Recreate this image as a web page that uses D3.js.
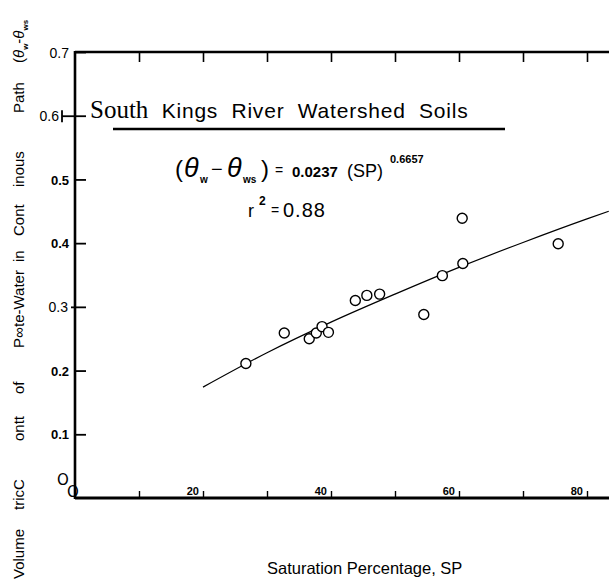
<!DOCTYPE html>
<html>
<head>
<meta charset="utf-8">
<script src="https://cdn.jsdelivr.net/npm/d3@7"></script>
<style>
  body { margin: 0; background: #fff; }
  svg { display: block; }
  text { fill: #000; }
</style>
</head>
<body>
<div id="chart"></div>
<script>
// observed points (saturation percentage vs theta_w - theta_ws)
var sp = [26.7, 32.7, 36.6, 37.7, 38.6, 39.6, 43.8, 45.6, 47.6, 54.5, 57.4, 60.5, 60.6, 75.5];
var theta = [0.211, 0.259, 0.250, 0.259, 0.269, 0.260, 0.310, 0.318, 0.320, 0.288, 0.349, 0.439, 0.368, 0.399];

// fitted curve
var curveSP = [20, 30, 40, 50, 60, 70, 80, 83.4];
var curveTheta = [0.174, 0.228, 0.276, 0.320, 0.362, 0.401, 0.438, 0.450];

var yTicks = [0.1, 0.2, 0.3, 0.4, 0.5, 0.6, 0.7];
var xTicks = [10, 20, 30, 40, 50, 60, 70, 80];
var xTickLabels = ["20", "40", "60", "80"];

var width = 609;
var height = 579;
var margin = ({ top: 52, right: 0, bottom: 81, left: 75 });

var svg = d3.select("#chart").append("svg")
  .attr("width", width)
  .attr("height", height);

/* Scale */
var xScale = d3.scaleLinear()
  .domain([0, 80])
  .range([margin.left, 587]);

var yScale = d3.scaleLinear()
  .domain([0, 0.7])
  .range([height - margin.bottom, margin.top]);

/* frame: top and left lines, bottom axis */
var topAxis = d3.axisTop(xScale)
  .tickValues(xTicks)
  .tickSizeInner(-10)
  .tickSizeOuter(0)
  .tickFormat("");
var gTop = svg.append("g")
  .attr("transform", `translate(0,${margin.top})`)
  .call(topAxis);
gTop.select(".domain").remove();
gTop.selectAll("line").attr("stroke-width", 1.6);

var bottomAxis = d3.axisBottom(xScale)
  .tickValues(xTicks)
  .tickSizeInner(-7)
  .tickSizeOuter(0)
  .tickFormat("");
var gBottom = svg.append("g")
  .attr("transform", `translate(0,${yScale(0)})`)
  .call(bottomAxis);
gBottom.select(".domain").remove();
gBottom.selectAll("line").attr("stroke-width", 1.4);

svg.append("line")
  .attr("x1", xScale(0)).attr("x2", width)
  .attr("y1", yScale(0.7)).attr("y2", yScale(0.7))
  .attr("stroke", "#000").attr("stroke-width", 2.6);
svg.append("line")
  .attr("x1", xScale(0)).attr("x2", width)
  .attr("y1", yScale(0)).attr("y2", yScale(0))
  .attr("stroke", "#000").attr("stroke-width", 2.8);
svg.append("line")
  .attr("x1", xScale(0)).attr("x2", xScale(0))
  .attr("y1", yScale(0.7) - 1).attr("y2", yScale(0) + 1)
  .attr("stroke", "#000").attr("stroke-width", 2.6);

// x tick labels sit just above the axis, left of their tick
svg.append("g").selectAll("text")
  .data(xTickLabels)
  .join("text")
  .attr("x", d => xScale(+d) - 4)
  .attr("y", yScale(0) - 3)
  .attr("text-anchor", "end")
  .style("font", "bold 11px 'Liberation Sans', Arial, sans-serif")
  .text(d => d);

/* y axis */
var yAxis = d3.axisLeft(yScale)
  .tickValues(yTicks)
  .tickSizeInner(-11)
  .tickSizeOuter(0)
  .tickPadding(6)
  .tickFormat(d3.format(".1f"));
var gLeft = svg.append("g")
  .attr("transform", `translate(${margin.left},0)`)
  .call(yAxis);
gLeft.select(".domain").remove();
gLeft.selectAll("line").attr("stroke-width", 1.8);
gLeft.selectAll("text")
  .style("font", "bold 13px 'Liberation Sans', Arial, sans-serif")
  .attr("dy", "0.36em");

// the 0.6 and 0.3 ticks also stick out to the left in the scan
gLeft.selectAll(".tick")
  .filter(d => d === 0.6 || d === 0.3)
  .each(function (d) {
    var g = d3.select(this);
    var out = d === 0.6 ? 13 : 4;
    g.append("line")
      .attr("x1", -out).attr("x2", 0)
      .attr("stroke", "#000").attr("stroke-width", 1.8);
    if (d === 0.6) {
      g.append("line")
        .attr("x1", -out).attr("x2", -out)
        .attr("y1", -6).attr("y2", 6)
        .attr("stroke", "#000").attr("stroke-width", 1.8);
    }
    g.select("text").attr("x", -out - 3)
      .style("font-weight", "normal").style("font-size", "14px");
  });
gLeft.selectAll(".tick")
  .filter(d => d === 0.7)
  .select("text").style("font-weight", "normal").style("font-size", "14px");

// stray zero marks near the origin
svg.append("text")
  .attr("x", 57).attr("y", yScale(0) - 13)
  .style("font", "15px 'DejaVu Sans', sans-serif")
  .text("O");
svg.append("text")
  .attr("x", 67).attr("y", yScale(0) - 1)
  .style("font", "15px 'DejaVu Sans', sans-serif")
  .text("O");

/* fitted line */
var line = d3.line()
  .x(d => xScale(d[0]))
  .y(d => yScale(d[1]))
  .curve(d3.curveMonotoneX);

svg.append("path")
  .datum(d3.zip(curveSP, curveTheta))
  .attr("d", line)
  .attr("fill", "none")
  .attr("stroke", "#000")
  .attr("stroke-width", 1.2);

/* points */
svg.append("g").selectAll("circle")
  .data(d3.zip(sp, theta))
  .join("circle")
  .attr("cx", d => xScale(d[0]))
  .attr("cy", d => yScale(d[1]))
  .attr("r", 5)
  .attr("fill", "#fff")
  .attr("stroke", "#000")
  .attr("stroke-width", 1.4);

/* title */
var title = svg.append("text")
  .attr("x", 90)
  .attr("y", 118)
  .attr("xml:space", "preserve");
title.append("tspan")
  .style("font", "25px 'Liberation Serif', 'Times New Roman', serif")
  .text("South");
title.append("tspan")
  .style("font", "21px 'Liberation Sans', Arial, sans-serif")
  .style("letter-spacing", "0.8px")
  .text("  Kings  River  Watershed  Soils");
svg.append("line")
  .attr("x1", 113).attr("x2", 505)
  .attr("y1", 129).attr("y2", 129)
  .attr("stroke", "#000").attr("stroke-width", 2.4);

/* equation */
var eq = svg.append("text")
  .style("font-family", "'Liberation Sans', Arial, sans-serif");
var eqBase = 177;
var eqParts = [
  { t: "(", x: 175, dy: 0, size: 24 },
  { t: "θ", x: 184, dy: 0, size: 27, it: true },
  { t: "w", x: 200, dy: 6, size: 10, b: true },
  { t: "−", x: 211, dy: -1, size: 20 },
  { t: "θ", x: 227, dy: 0, size: 27, it: true },
  { t: "ws", x: 243, dy: 6, size: 10, b: true },
  { t: ")", x: 261, dy: 0, size: 24 },
  { t: "=", x: 275, dy: -2, size: 14 },
  { t: "0.0237", x: 292, dy: 0, size: 15, b: true },
  { t: "(SP)", x: 347, dy: 0, size: 18 },
  { t: "0.6657", x: 390, dy: -14, size: 11, b: true }
];
eq.selectAll("tspan")
  .data(eqParts)
  .join("tspan")
  .attr("x", d => d.x)
  .attr("y", d => eqBase + d.dy)
  .style("font-size", d => d.size + "px")
  .style("font-weight", d => d.b ? "bold" : "normal")
  .style("font-style", d => d.it ? "italic" : "normal")
  .text(d => d.t);

var r2 = svg.append("text")
  .style("font-family", "'Liberation Sans', Arial, sans-serif");
r2.append("tspan").attr("x", 248).attr("y", 217).style("font-size", "18px").text("r");
r2.append("tspan").attr("x", 259).attr("y", 205).style("font-size", "12px").style("font-weight", "bold").text("2");
r2.append("tspan").attr("x", 271).attr("y", 215).style("font-size", "14px").text("=");
r2.append("tspan").attr("x", 283).attr("y", 217).style("font-size", "20px").style("letter-spacing", "1px").text("0.88");

/* x axis label */
svg.append("text")
  .attr("x", 267)
  .attr("y", 574)
  .style("font", "16.5px 'Liberation Sans', Arial, sans-serif")
  .text("Saturation Percentage, SP");

/* y axis label, pieces placed where the scan shows them */
var yLabelParts = ["Volume", "tricC", "ontt", "of", "P\u221e", "te-Water", "in", "Cont", "inous", "Path"];
var yLabelStarts = [579, 510, 441, 394, 348, 327, 262, 236, 187, 113];
var gY = svg.append("g")
  .attr("transform", "translate(24,0) rotate(-90)")
  .style("font", "15px 'Liberation Sans', Arial, sans-serif");
gY.selectAll("text")
  .data(yLabelParts)
  .join("text")
  .attr("x", (d, i) => -yLabelStarts[i])
  .attr("y", 0)
  .text(d => d);
var yt = gY.append("text").attr("x", -63).attr("y", 0);
yt.append("tspan").text("(");
yt.append("tspan").style("font-style", "italic").text("θ");
yt.append("tspan").style("font-size", "8px").style("font-weight", "bold").attr("dy", 4).text("w");
yt.append("tspan").attr("dy", -4).text("-");
yt.append("tspan").style("font-style", "italic").text("θ");
yt.append("tspan").style("font-size", "8px").style("font-weight", "bold").attr("dy", 4).text("ws");
</script>
</body>
</html>
